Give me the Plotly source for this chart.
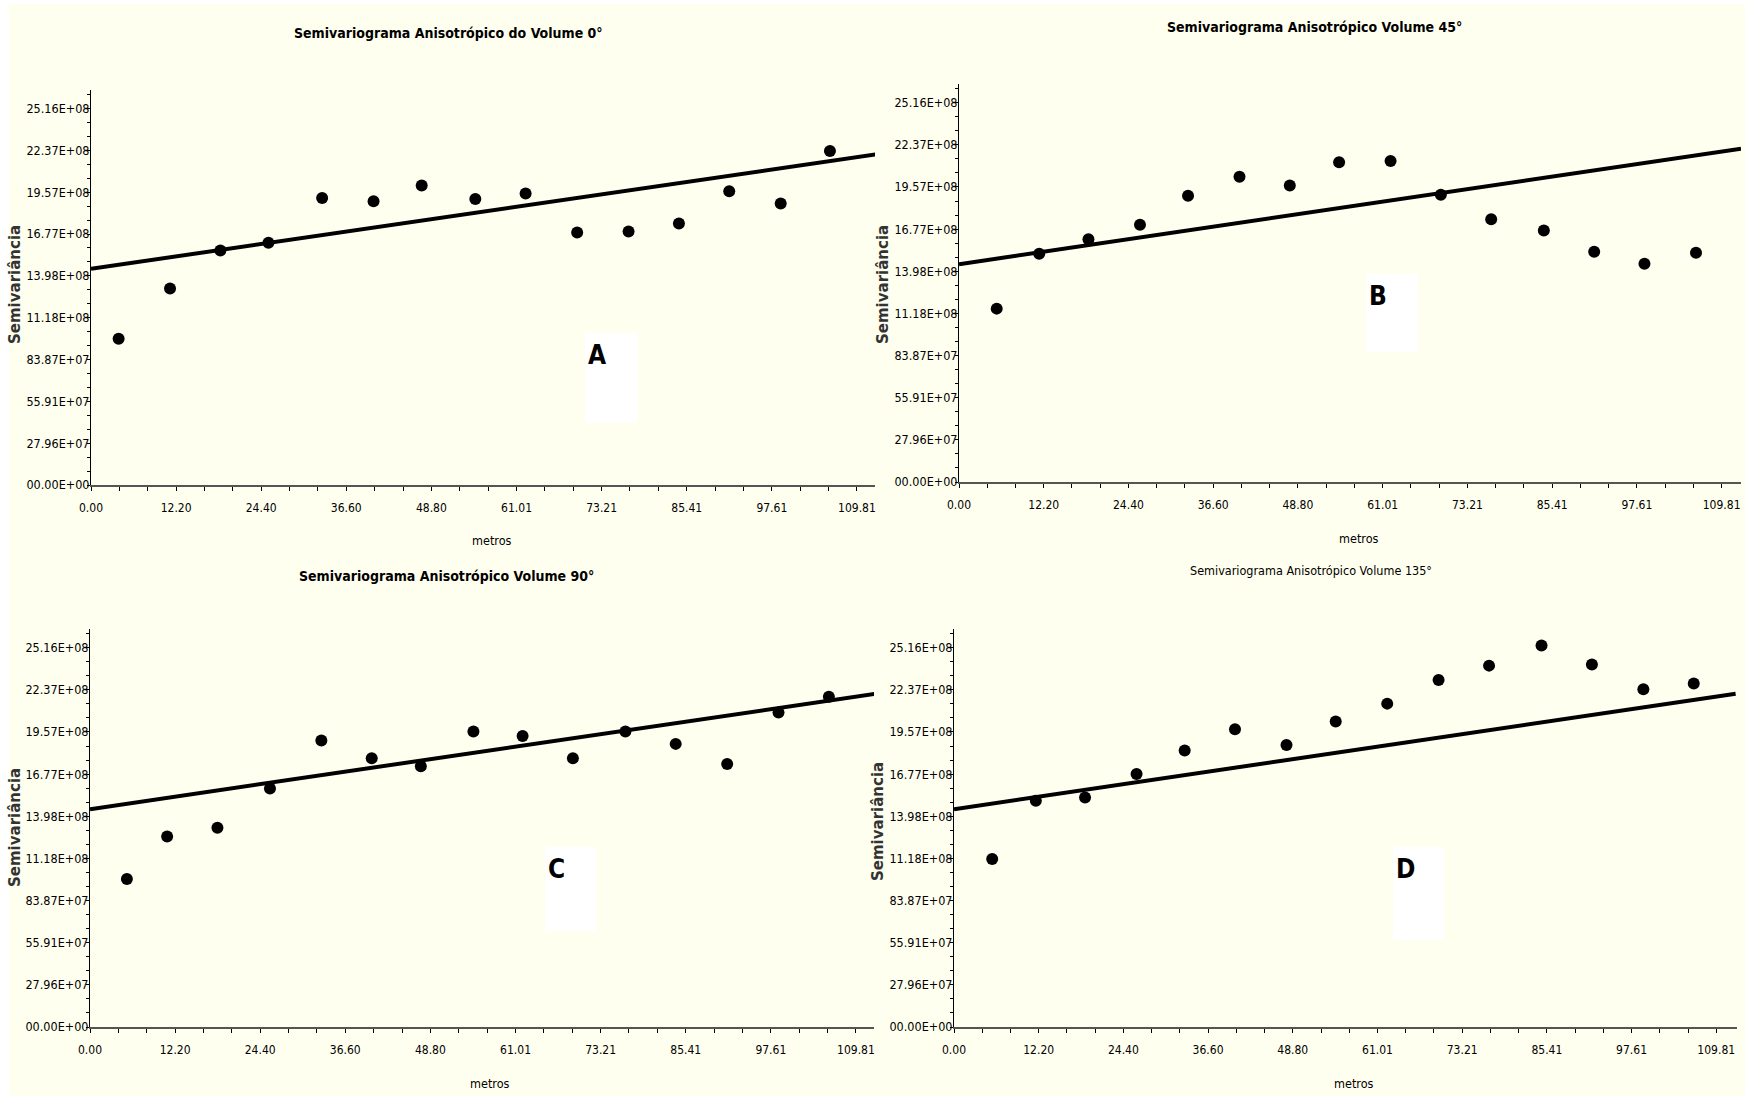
import plotly.graph_objects as go

W, H = 1754, 1096

# ---------------- data ----------------
x_tick_vals = [0.0, 12.20, 24.40, 36.60, 48.80, 61.01, 73.21, 85.41, 97.61, 109.81]
x_tick_text = ["0.00", "12.20", "24.40", "36.60", "48.80", "61.01", "73.21", "85.41", "97.61", "109.81"]
y_tick_vals = [0.0, 2.796e8, 5.591e8, 8.387e8, 11.18e8, 13.98e8, 16.77e8, 19.57e8, 22.37e8, 25.16e8]
y_tick_text = ["00.00E+00", "27.96E+07", "55.91E+07", "83.87E+07", "11.18E+08",
               "13.98E+08", "16.77E+08", "19.57E+08", "22.37E+08", "25.16E+08"]

lag_A = [3.96, 11.33, 18.55, 25.44, 33.14, 40.51, 47.41, 55.10, 62.31, 69.70, 77.07, 84.29, 91.50, 98.88, 105.94]
gamma_A = [9.77e8, 13.13e8, 15.67e8, 16.19e8, 19.18e8, 18.96e8, 20.01e8, 19.11e8, 19.48e8, 16.87e8, 16.94e8, 17.47e8, 19.63e8, 18.81e8, 22.33e8]

lag_B = [5.43, 11.55, 18.64, 26.06, 32.98, 40.39, 47.63, 54.73, 62.14, 69.38, 76.63, 84.21, 91.46, 98.70, 106.12]
gamma_B = [11.50e8, 15.14e8, 16.10e8, 17.06e8, 18.99e8, 20.25e8, 19.66e8, 21.21e8, 21.29e8, 19.06e8, 17.43e8, 16.69e8, 15.28e8, 14.47e8, 15.21e8]

lag_C = [5.29, 11.06, 18.27, 25.80, 33.17, 40.39, 47.43, 54.97, 62.02, 69.23, 76.76, 83.97, 91.35, 98.71, 105.93]
gamma_C = [9.81e8, 12.63e8, 13.22e8, 15.82e8, 19.01e8, 17.82e8, 17.30e8, 19.60e8, 19.30e8, 17.82e8, 19.60e8, 18.78e8, 17.45e8, 20.86e8, 21.90e8]

lag_D = [5.50, 11.79, 18.88, 26.30, 33.23, 40.48, 47.90, 54.99, 62.41, 69.81, 77.08, 84.64, 91.90, 99.31, 106.57]
gamma_D = [11.15e8, 15.00e8, 15.22e8, 16.78e8, 18.34e8, 19.75e8, 18.71e8, 20.27e8, 21.45e8, 23.01e8, 23.97e8, 25.31e8, 24.04e8, 22.41e8, 22.78e8]

# fitted model line (end points)
model_x = [0.0, 112.6]
model_y = [14.45e8, 22.10e8]

titles = ["Semivariograma Anisotrópico do Volume 0°",
          "Semivariograma Anisotrópico Volume 45°",
          "Semivariograma Anisotrópico Volume 90°",
          "Semivariograma Anisotrópico Volume 135°"]
panel_letters = ["A", "B", "C", "D"]
x_title = "metros"
y_title = "Semivariância"

# ---------------- layout helpers (pixel -> paper) ----------------
def px(x):
    return x / W

def py(y):
    return 1 - y / H

CREAM = "#FFFFEF"
NARROW = "DejaVu Sans Condensed, DejaVu Sans, sans-serif"

# pixel boxes of each plot area: (left, right, top, bottom), x max, y max
panels = [
    dict(l=91, r=875, t=90, b=485, xmax=112.4, ymax=26.4e8),
    dict(l=959, r=1741, t=84, b=482, xmax=112.6, ymax=26.4e8),
    dict(l=90, r=874, t=629, b=1027, xmax=112.4, ymax=26.4e8),
    dict(l=954, r=1737, t=629, b=1027, xmax=112.8, ymax=26.4e8),
]
series = [(lag_A, gamma_A), (lag_B, gamma_B), (lag_C, gamma_C), (lag_D, gamma_D)]

title_pos = [(448, 33, 14, "bold"), (1314, 27, 14, "bold"), (447, 576, 14, "bold"), (1311, 570, 12.5, "normal")]
ytitle_pos = [(15, 285), (883, 285), (15, 828), (878, 822)]
xtitle_pos = [(492, 540), (1359, 538), (490, 1083), (1354, 1083)]
letter_boxes = [(585, 333, 638, 423), (1366, 274, 1418, 352), (545, 847, 596, 931), (1393, 847, 1444, 940)]

x_step = 109.81 / 9
y_step = 25.16e8 / 9
x_minor = [i * x_step / 3 for i in range(0, 28) if i % 3 != 0]
y_minor = [i * y_step / 3 for i in range(0, 29) if i % 3 != 0]

fig = go.Figure()
shapes = [dict(type="rect", xref="paper", yref="paper", x0=px(9), x1=px(1745), y0=0, y1=py(4),
               fillcolor=CREAM, line=dict(width=0), layer="below")]
annotations = []

for i, p in enumerate(panels):
    n = i + 1
    xa = "x" if n == 1 else f"x{n}"
    ya = "y" if n == 1 else f"y{n}"
    lx, ly = series[i]
    fig.add_trace(go.Scatter(x=model_x, y=model_y, mode="lines", line=dict(color="black", width=4),
                             xaxis=xa, yaxis=ya, showlegend=False, hoverinfo="skip"))
    fig.add_trace(go.Scatter(x=lx, y=ly, mode="markers",
                             marker=dict(symbol="circle", size=12, color="black"),
                             xaxis=xa, yaxis=ya, showlegend=False))
    xkey = "xaxis" if n == 1 else f"xaxis{n}"
    ykey = "yaxis" if n == 1 else f"yaxis{n}"
    fig.update_layout(**{
        xkey: dict(domain=[px(p["l"]), px(p["r"])], anchor=ya, range=[0, p["xmax"]],
                   automargin=False,
                   tickmode="array", tickvals=x_tick_vals, ticktext=x_tick_text,
                   ticks="outside", ticklen=4, tickcolor="black", tickwidth=1,
                   showline=True, linecolor="#555555", linewidth=2,
                   showgrid=False, zeroline=False, ticklabelstandoff=7,
                   tickfont=dict(family=NARROW, size=12, color="black"),
                   minor=dict(tickmode="array", tickvals=x_minor, ticks="outside", ticklen=4,
                              tickcolor="black", tickwidth=1, showgrid=False)),
        ykey: dict(domain=[py(p["b"]), py(p["t"])], anchor=xa, range=[0, p["ymax"]],
                   automargin=False,
                   tickmode="array", tickvals=y_tick_vals, ticktext=y_tick_text,
                   ticks="outside", ticklen=3, tickcolor="black", tickwidth=1,
                   showline=True, linecolor="black", linewidth=1,
                   showgrid=False, zeroline=False, ticklabelstandoff=-5,
                   tickfont=dict(family=NARROW, size=12.5, color="black"),
                   minor=dict(tickmode="array", tickvals=y_minor, ticks="outside", ticklen=3,
                              tickcolor="black", tickwidth=1, showgrid=False)),
    })

    tx, ty, ts, tw = title_pos[i]
    annotations.append(dict(text=titles[i], x=px(tx), y=py(ty), xref="paper", yref="paper",
                            showarrow=False, xanchor="center", yanchor="middle",
                            font=dict(family=NARROW, size=ts, color="black", weight=tw)))
    yx, yy = ytitle_pos[i]
    annotations.append(dict(text=y_title, x=px(yx), y=py(yy), xref="paper", yref="paper",
                            showarrow=False, textangle=-90, xanchor="center", yanchor="middle",
                            font=dict(family="DejaVu Sans, Arial, sans-serif", size=15, color="#333333", weight="bold")))
    mx, my = xtitle_pos[i]
    annotations.append(dict(text=x_title, x=px(mx), y=py(my), xref="paper", yref="paper",
                            showarrow=False, xanchor="center", yanchor="middle",
                            font=dict(family=NARROW, size=12.5, color="black")))
    bx0, by0, bx1, by1 = letter_boxes[i]
    shapes.append(dict(type="rect", xref="paper", yref="paper", x0=px(bx0), x1=px(bx1),
                       y0=py(by1), y1=py(by0), fillcolor="white", line=dict(width=0), layer="below"))
    annotations.append(dict(text=panel_letters[i], x=px(bx0 + 1), y=py(by0 + 22), xref="paper", yref="paper",
                            showarrow=False, xanchor="left", yanchor="middle",
                            font=dict(family=NARROW, size=26, color="black", weight="bold")))

fig.update_layout(width=W, height=H, margin=dict(l=0, r=0, t=0, b=0, autoexpand=False),
                  paper_bgcolor="white", plot_bgcolor="rgba(0,0,0,0)",
                  shapes=shapes, annotations=annotations, showlegend=False)

fig.write_html("out.html")
